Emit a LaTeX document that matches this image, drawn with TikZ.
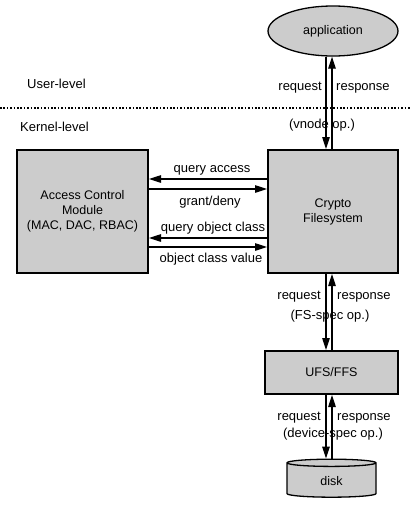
\documentclass[tikz,border=0pt]{standalone}
\usepackage{fontspec}
\setmainfont{Liberation Sans}
\usetikzlibrary{arrows.meta,shapes.geometric}

\begin{document}
\begin{tikzpicture}[
    x=1pt, y=-1pt,
    >={Triangle[length=12pt,width=7.5pt]},
    font=\fontsize{13}{15}\selectfont,
    box/.style={draw=black, line width=2pt, fill=black!20, align=center,
                font=\fontsize{12.5}{15}\selectfont},
    flow/.style={->, line width=1.1pt},
    lbl/.style={inner sep=1pt},
    layer/.style={anchor=west, inner sep=0pt}
]
\useasboundingbox (0,0) rectangle (410,520);

% ---- user / kernel boundary ----
\draw[line width=2pt, dash pattern=on 1.6pt off 1.8pt] (0,108) -- (410,108);
\node[layer] (user) at (27,84) {User-level};
\node[layer] (kernel) at (20,127) {Kernel-level};

% ---- components ----
\node[box, ellipse, line width=1.3pt, minimum width=130, minimum height=50]
  (app) at (333,31) {application};
\node[box, minimum width=130, minimum height=123] (crypto) at (333,211.5)
  {Crypto\\Filesystem};
\node[box, minimum width=131, minimum height=123] (acm) at (82.5,211.5)
  {Access Control\\Module\\(MAC, DAC, RBAC)};
\node[box, minimum width=133, minimum height=43] (ufs) at (331.5,372.5)
  {UFS/FFS};
\node[box, cylinder, shape border rotate=90, aspect=0.25, line width=1.3pt,
      minimum width=89, minimum height=38] (disk) at (331.5,481) {disk};

% ---- application <-> crypto ----
\draw[flow] ([xshift=-7pt]app.south) -- ([xshift=-7pt]crypto.north);
\draw[flow] ([xshift=-1pt]crypto.north) -- ([xshift=-1pt]app.south);
\node[lbl, anchor=east] (req1) at (323,88) {request};
\node[lbl, anchor=west] (res1) at (335,88) {response};
\node[lbl] (op1) at (322,125) {(vnode op.)};

% ---- crypto <-> access control ----
\draw[flow] ([yshift=32.5pt]crypto.west) -- ([yshift=32.5pt]acm.east);
\draw[flow] ([yshift=22.5pt]acm.east) -- ([yshift=22.5pt]crypto.west);
\draw[flow] ([yshift=-26.5pt]crypto.west) -- ([yshift=-26.5pt]acm.east);
\draw[flow] ([yshift=-35.5pt]acm.east) -- ([yshift=-35.5pt]crypto.west);
\node[lbl] (qa) at (212,170) {query access};
\node[lbl] (gd) at (210,202) {grant/deny};
\node[lbl] (qoc) at (213,228) {query object class};
\node[lbl] (ocv) at (211,259) {object class value};

% ---- crypto <-> ufs ----
\draw[flow] ([xshift=-7pt]crypto.south) -- ([xshift=-5.5pt]ufs.north);
\draw[flow] ([xshift=0.5pt]ufs.north) -- ([xshift=-1pt]crypto.south);
\node[lbl, anchor=east] (req2) at (322,297) {request};
\node[lbl, anchor=west] (res2) at (336,297) {response};
\node[lbl] (op2) at (330,316) {(FS-spec op.)};

% ---- ufs <-> disk ----
\draw[flow] ([xshift=-5.5pt]ufs.south) -- ([xshift=-5.5pt]disk.top);
\draw[flow] ([xshift=0.5pt]disk.top) -- ([xshift=0.5pt]ufs.south);
\node[lbl, anchor=east] (req3) at (322,418) {request};
\node[lbl, anchor=west] (res3) at (336,418) {response};
\node[lbl] (op3) at (333,434) {(device-spec op.)};

\end{tikzpicture}
\end{document}
